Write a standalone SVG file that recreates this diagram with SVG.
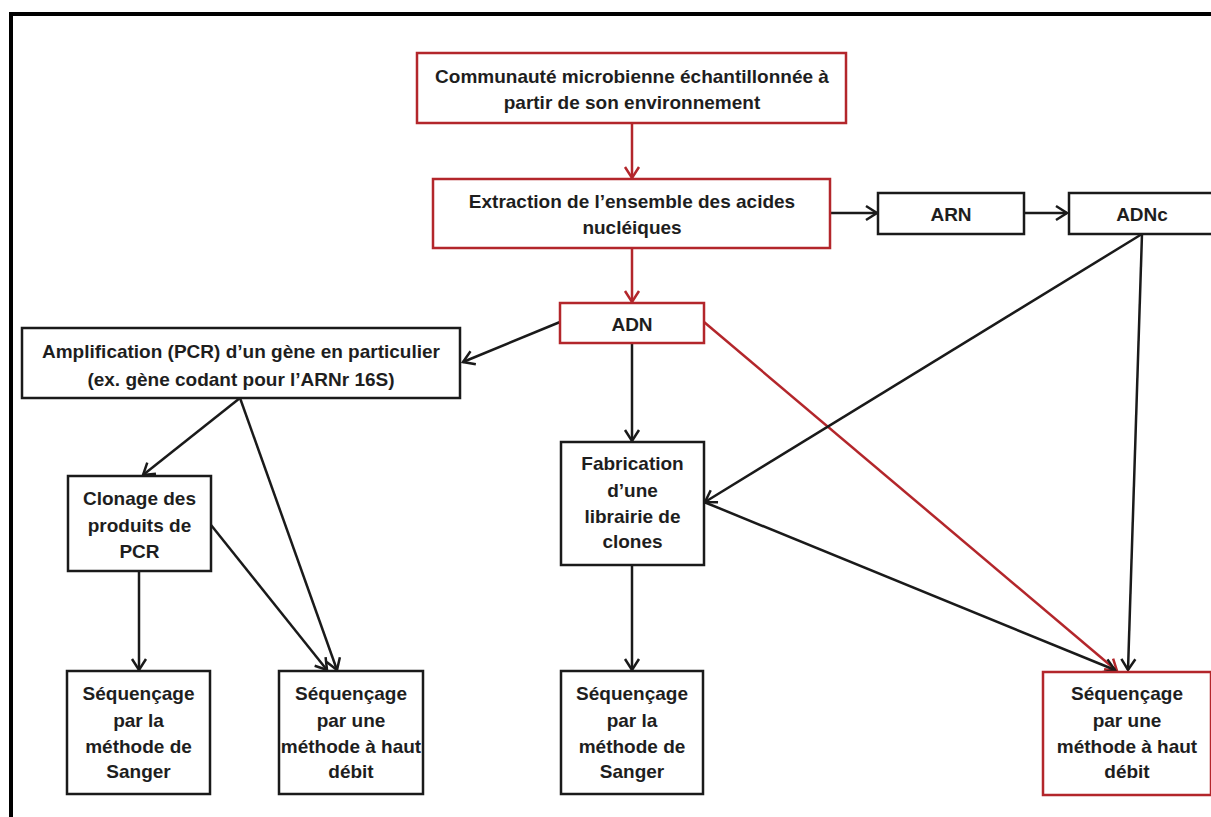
<svg xmlns="http://www.w3.org/2000/svg" width="1211" height="817" viewBox="0 0 1211 817">
<style>
.box{fill:#fff;stroke:#1a1a1a;stroke-width:2.5}
.red{stroke:#b3262b}
text{font-family:"Liberation Sans",Arial,sans-serif;font-weight:bold;font-size:19px;fill:#1e1e1e;text-anchor:middle}
.c{fill:none;stroke:#1a1a1a;stroke-width:2.5}
.cr{fill:none;stroke:#b3262b;stroke-width:2.5}
</style>
<defs>
<marker id="ab" markerUnits="userSpaceOnUse" markerWidth="20" markerHeight="20" viewBox="-12 -10 14 20" refX="0" refY="0" orient="auto">
<path d="M-11,-7 L0,0 L-11,7" fill="none" stroke="#1a1a1a" stroke-width="2.5"/>
</marker>
<marker id="ar" markerUnits="userSpaceOnUse" markerWidth="20" markerHeight="20" viewBox="-12 -10 14 20" refX="0" refY="0" orient="auto">
<path d="M-11,-7 L0,0 L-11,7" fill="none" stroke="#b3262b" stroke-width="2.5"/>
</marker>
</defs>
<rect width="1211" height="817" fill="#fff"/>
<path d="M11,817 V14 H1211" fill="none" stroke="#000" stroke-width="4"/>

<g id="connectors">
<line class="cr" x1="632" y1="123" x2="632" y2="178" marker-end="url(#ar)"/>
<line class="cr" x1="632" y1="248" x2="632" y2="302" marker-end="url(#ar)"/>
<line class="c" x1="830" y1="213" x2="877" y2="213" marker-end="url(#ab)"/>
<line class="c" x1="1024" y1="213" x2="1067" y2="213" marker-end="url(#ab)"/>
<line class="c" x1="560" y1="322" x2="463" y2="362" marker-end="url(#ab)"/>
<line class="c" x1="632" y1="343" x2="632" y2="441" marker-end="url(#ab)"/>
<line class="cr" x1="704" y1="322" x2="1117" y2="671" marker-end="url(#ar)"/>
<line class="c" x1="240" y1="398" x2="143" y2="475" marker-end="url(#ab)"/>
<line class="c" x1="240" y1="398" x2="337" y2="670" marker-end="url(#ab)"/>
<line class="c" x1="211" y1="525" x2="327" y2="670" marker-end="url(#ab)"/>
<line class="c" x1="139" y1="571" x2="139" y2="670" marker-end="url(#ab)"/>
<line class="c" x1="1142" y1="234" x2="705" y2="502" marker-end="url(#ab)"/>
<line class="c" x1="1142" y1="234" x2="1128" y2="670" marker-end="url(#ab)"/>
<line class="c" x1="704" y1="502" x2="1115" y2="670" marker-end="url(#ab)"/>
<line class="c" x1="632" y1="565" x2="632" y2="670" marker-end="url(#ab)"/>
</g>

<g id="n-communaute">
<rect class="box red" x="417" y="53" width="429" height="70"/>
<text x="632" y="83">Communauté microbienne échantillonnée à</text>
<text x="632" y="109">partir de son environnement</text>
</g>
<g id="n-extraction">
<rect class="box red" x="433" y="179" width="397" height="69"/>
<text x="632" y="208">Extraction de l’ensemble des acides</text>
<text x="632" y="234">nucléiques</text>
</g>
<g id="n-arn">
<rect class="box" x="878" y="193" width="146" height="41"/>
<text x="951" y="221">ARN</text>
</g>
<g id="n-adnc">
<rect class="box" x="1069" y="193" width="147" height="41"/>
<text x="1142" y="221">ADNc</text>
</g>
<g id="n-adn">
<rect class="box red" x="560" y="303" width="144" height="40"/>
<text x="632" y="331">ADN</text>
</g>
<g id="n-amplification">
<rect class="box" x="22" y="328" width="438" height="70"/>
<text x="241" y="358">Amplification (PCR) d’un gène en particulier</text>
<text x="241" y="386">(ex. gène codant pour l’ARNr 16S)</text>
</g>
<g id="n-clonage">
<rect class="box" x="68" y="476" width="143" height="95"/>
<text x="139.5" y="505">Clonage des</text>
<text x="139.5" y="532">produits de</text>
<text x="139.5" y="558">PCR</text>
</g>
<g id="n-fabrication">
<rect class="box" x="561" y="442" width="143" height="123"/>
<text x="632.5" y="470">Fabrication</text>
<text x="632.5" y="497">d’une</text>
<text x="632.5" y="523">librairie de</text>
<text x="632.5" y="548">clones</text>
</g>
<g id="n-sanger1">
<rect class="box" x="67" y="671" width="143" height="123"/>
<text x="138.5" y="700">Séquençage</text>
<text x="138.5" y="727">par la</text>
<text x="138.5" y="753">méthode de</text>
<text x="138.5" y="778">Sanger</text>
</g>
<g id="n-ht1">
<rect class="box" x="279" y="671" width="144" height="123"/>
<text x="351" y="700">Séquençage</text>
<text x="351" y="727">par une</text>
<text x="351" y="753">méthode à haut</text>
<text x="351" y="778">débit</text>
</g>
<g id="n-sanger2">
<rect class="box" x="561" y="671" width="142" height="123"/>
<text x="632" y="700">Séquençage</text>
<text x="632" y="727">par la</text>
<text x="632" y="753">méthode de</text>
<text x="632" y="778">Sanger</text>
</g>
<g id="n-ht2">
<rect class="box red" x="1043" y="672" width="168" height="123"/>
<text x="1127" y="700">Séquençage</text>
<text x="1127" y="727">par une</text>
<text x="1127" y="753">méthode à haut</text>
<text x="1127" y="778">débit</text>
</g>
</svg>
